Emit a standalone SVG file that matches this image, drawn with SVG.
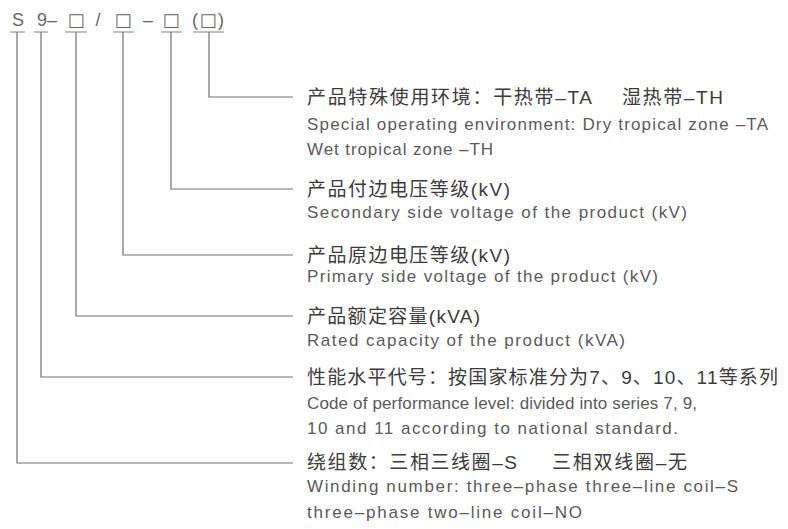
<svg xmlns="http://www.w3.org/2000/svg" width="788" height="529" viewBox="0 0 788 529">
<style>
.cn{font-family:"Liberation Sans","Noto Sans CJK SC",sans-serif;font-size:19px;fill:#3c3c3c}
.en{font-family:"Liberation Sans","Noto Sans CJK SC",sans-serif;font-size:17px;fill:#5a5a5a}
.hd{font-family:"Liberation Sans","DejaVu Sans",sans-serif;font-size:18px;fill:#666;text-anchor:middle}
.bx{font-family:"DejaVu Sans",sans-serif;font-size:18px;fill:#666;text-anchor:middle}
.ln{fill:none;stroke:#707070;stroke-width:1.2}
.ul{fill:none;stroke:#808080;stroke-width:1.2}
</style>
<rect width="788" height="529" fill="#fff"/>
<g id="header">
<text class="hd" x="18" y="26">S</text>
<text class="hd" x="47" y="26">9–</text>
<text class="bx" x="76" y="26">□</text>
<text class="hd" x="98" y="26">/</text>
<text class="bx" x="123" y="26">□</text>
<text class="hd" x="148" y="26">–</text>
<text class="bx" x="171" y="26">□</text>
<text class="hd" x="195" y="26">(</text>
<text class="bx" x="208" y="26">□</text>
<text class="hd" x="221" y="26">)</text>
<path class="ul" d="M10 32H25M34 32H48M65 32H87M113 32H134M161 32H182M193 32H224"/>
</g>
<g id="connectors">
<path class="ln" d="M209 32V97H293"/>
<path class="ln" d="M171 32V189H293"/>
<path class="ln" d="M123 32V255H293"/>
<path class="ln" d="M76 32V316H293"/>
<path class="ln" d="M41 32V377H293"/>
<path class="ln" d="M17 32V463H293"/>
</g>
<g id="node-environment">
<text class="cn" x="307" y="104" textLength="285" lengthAdjust="spacing">产品特殊使用环境：干热带–TA</text>
<text class="cn" x="622" y="104" textLength="101" lengthAdjust="spacing">湿热带–TH</text>
<text class="en" x="307" y="130" textLength="461" lengthAdjust="spacing">Special operating environment: Dry tropical zone –TA</text>
<text class="en" x="307" y="155" textLength="186" lengthAdjust="spacing">Wet tropical zone –TH</text>
</g>
<g id="node-secondary">
<text class="cn" x="307" y="196" textLength="203" lengthAdjust="spacing">产品付边电压等级(kV)</text>
<text class="en" x="307" y="218" textLength="380" lengthAdjust="spacing">Secondary side voltage of the product (kV)</text>
</g>
<g id="node-primary">
<text class="cn" x="307" y="262" textLength="203" lengthAdjust="spacing">产品原边电压等级(kV)</text>
<text class="en" x="307" y="282" textLength="351" lengthAdjust="spacing">Primary side voltage of the product (kV)</text>
</g>
<g id="node-capacity">
<text class="cn" x="307" y="323" textLength="173" lengthAdjust="spacing">产品额定容量(kVA)</text>
<text class="en" x="307" y="346" textLength="318" lengthAdjust="spacing">Rated capacity of the product (kVA)</text>
</g>
<g id="node-performance">
<text class="cn" x="307" y="384" textLength="471" lengthAdjust="spacing">性能水平代号：按国家标准分为7、9、10、11等系列</text>
<text class="en" x="307" y="409" textLength="390" lengthAdjust="spacing">Code of performance level: divided into series 7, 9,</text>
<text class="en" x="307" y="434" textLength="371" lengthAdjust="spacing">10 and 11 according to national standard.</text>
</g>
<g id="node-winding">
<text class="cn" x="307" y="469" textLength="210" lengthAdjust="spacing">绕组数：三相三线圈–S</text>
<text class="cn" x="552" y="469" textLength="135" lengthAdjust="spacing">三相双线圈–无</text>
<text class="en" x="307" y="492" textLength="431" lengthAdjust="spacing">Winding number: three–phase three–line coil–S</text>
<text class="en" x="307" y="518" textLength="275" lengthAdjust="spacing">three–phase two–line coil–NO</text>
</g>
</svg>
